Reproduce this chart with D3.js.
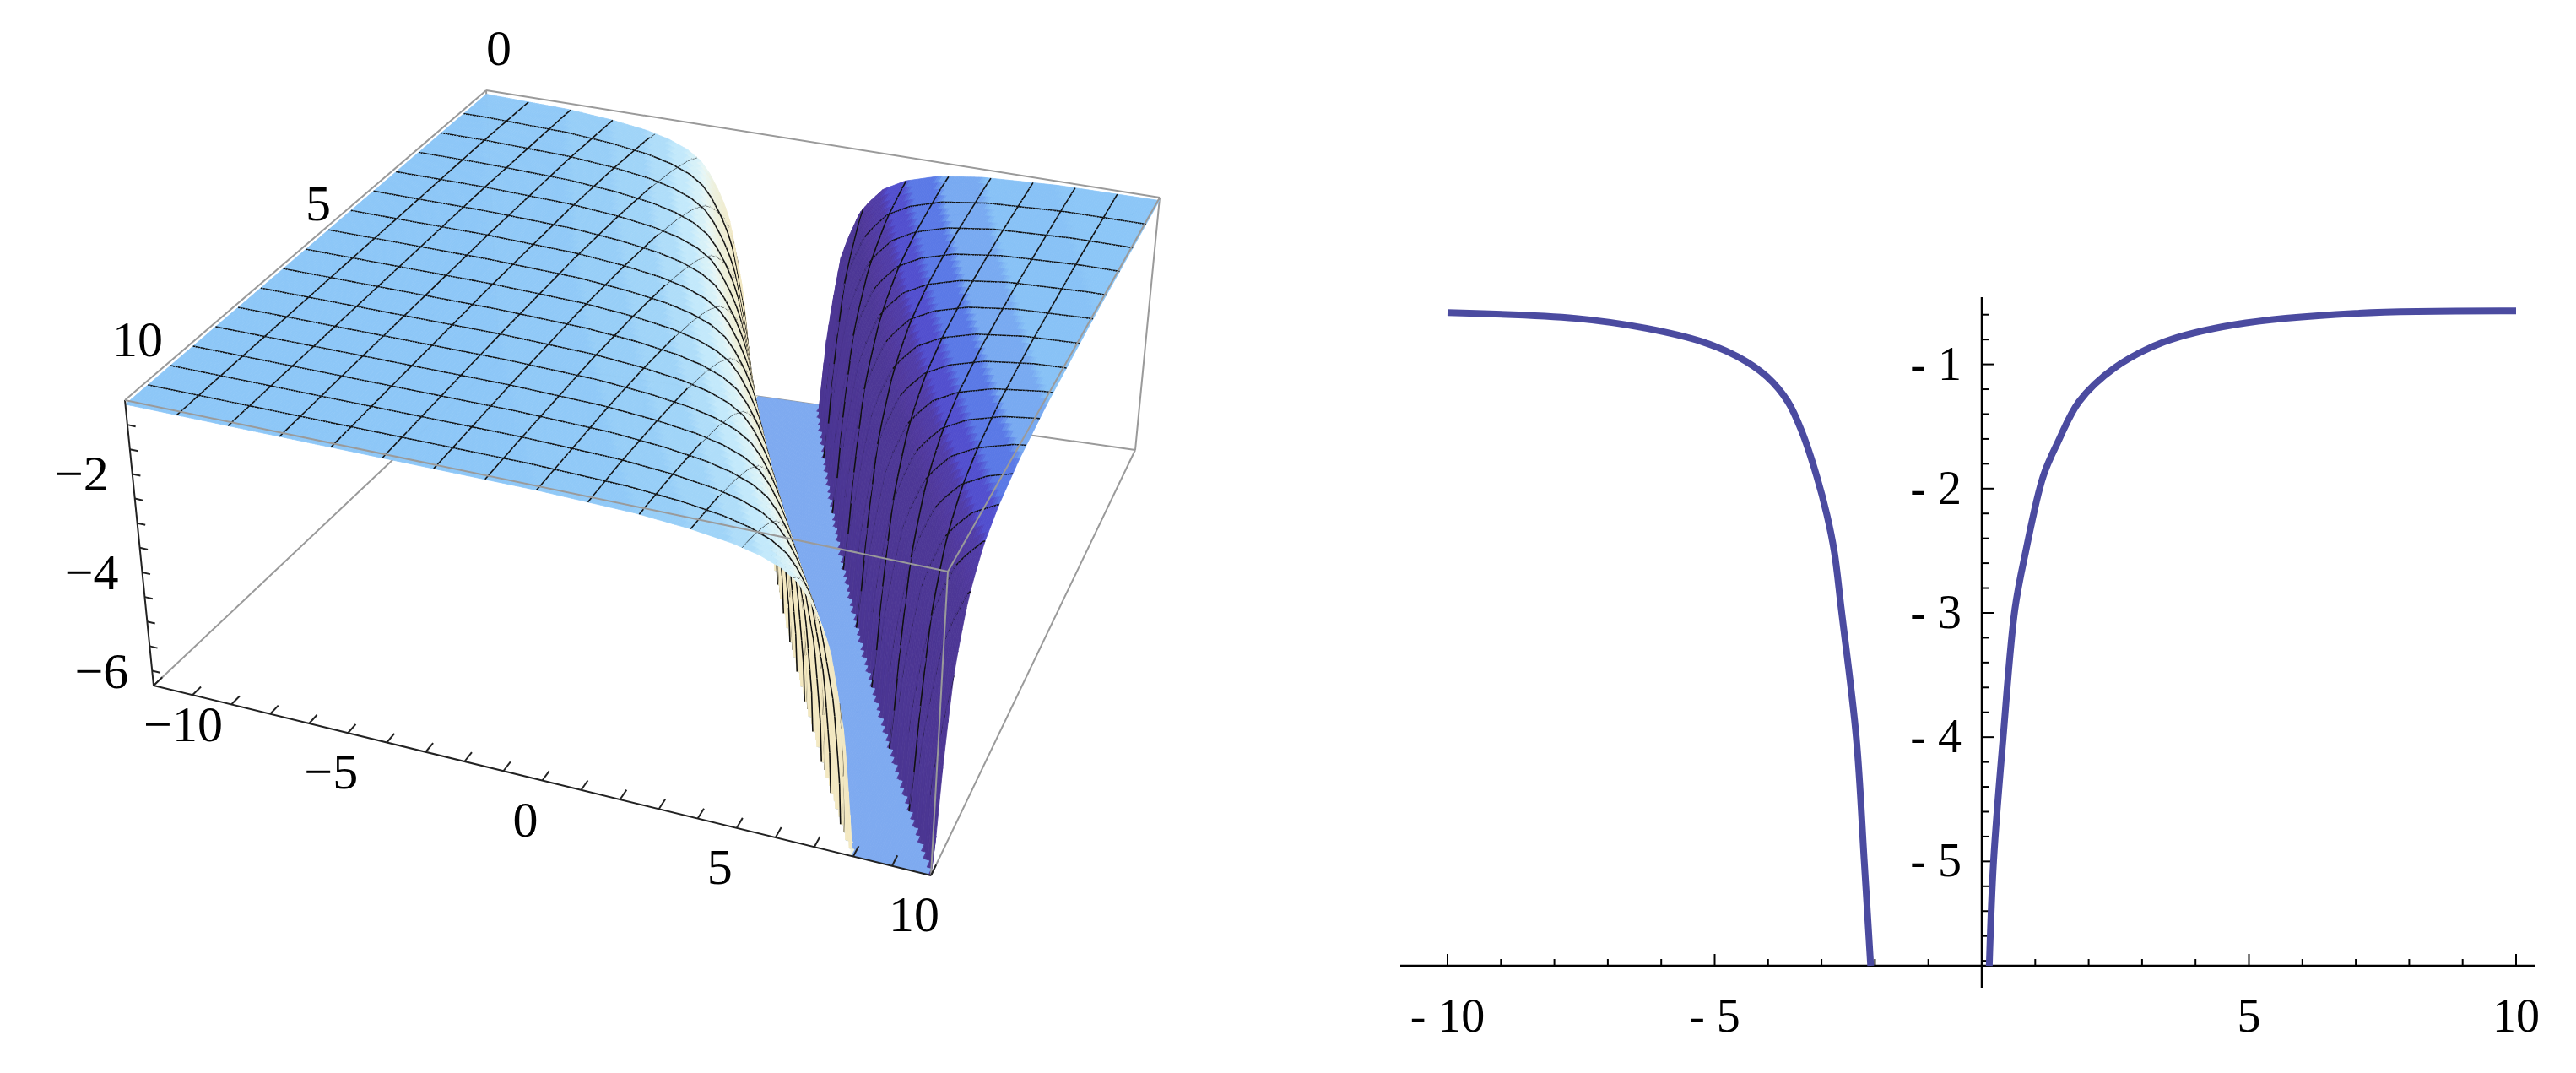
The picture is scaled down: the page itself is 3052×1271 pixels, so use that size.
<!DOCTYPE html>
<html><head><meta charset="utf-8">
<script src="https://cdn.jsdelivr.net/npm/d3@7"></script>
<style>body{margin:0;background:#fff}text{font-family:"Liberation Serif",serif}</style>
</head><body>
<script>
// ---- data ----
const leftX  = [-10,-7.6,-6.28,-5.22,-4.56,-4.02,-3.63,-3.36,-3.09,-2.9,-2.76,-2.63,-2.35,-2.2,-2.08];
const leftY  = [-0.584,-0.63,-0.71,-0.82,-0.94,-1.10,-1.30,-1.55,-1.90,-2.21,-2.51,-2.97,-4.0,-5.0,-5.84];
const rightX = [0.14,0.22,0.4,0.62,0.82,1.15,1.42,1.82,2.48,3.41,4.74,6.99,10];
const rightY = [-5.84,-5.0,-4.0,-2.97,-2.51,-1.90,-1.63,-1.30,-1.03,-0.82,-0.68,-0.59,-0.57];
const xTicks2D = [-10,-5,5,10];
const yTicks2D = [-1,-2,-3,-4,-5];
const uTicks3D = [-10,-5,0,5,10];
const vTicks3D = [0,5,10];
const zTicks3D = [-2,-4,-6];

const W=3052,H=1271;
const svg=d3.select("body").append("svg").attr("width",W).attr("height",H);

// ---------- 2D plot ----------
const x2=d3.scaleLinear().domain([-10,10]).range([1715,2981]);
const y2=d3.scaleLinear().domain([-5.84,-0.5]).range([1144,358]);
const g2=svg.append("g");
g2.append("line").attr("x1",1659).attr("x2",3003).attr("y1",y2(-5.84)).attr("y2",y2(-5.84)).attr("stroke","#000").attr("stroke-width",2.5);
g2.append("line").attr("x1",x2(0)).attr("x2",x2(0)).attr("y1",352).attr("y2",1170).attr("stroke","#000").attr("stroke-width",2.5);
d3.range(-10,10.01,1).forEach(v=>{ if(v===0)return; const maj=v%5===0;
 g2.append("line").attr("x1",x2(v)).attr("x2",x2(v)).attr("y1",y2(-5.84)).attr("y2",y2(-5.84)-(maj?14:8)).attr("stroke","#000").attr("stroke-width",2);});
d3.range(-5.8,-0.49,0.2).forEach(v=>{ const r=Math.round(v*5)/5; const maj=Math.abs(r-Math.round(r))<1e-6;
 g2.append("line").attr("x1",x2(0)).attr("x2",x2(0)+(maj?14:8)).attr("y1",y2(r)).attr("y2",y2(r)).attr("stroke","#000").attr("stroke-width",2);});
xTicks2D.forEach(v=>g2.append("text").attr("x",x2(v)).attr("y",1222).attr("text-anchor","middle").attr("font-size",56)
  .text(v<0?"- "+(-v):String(v)));
yTicks2D.forEach(v=>g2.append("text").attr("x",x2(0)-24).attr("y",y2(v)+18).attr("text-anchor","end").attr("font-size",56)
  .text("- "+(-v)));
const line2=d3.line().x(d=>x2(d[0])).y(d=>y2(d[1])).curve(d3.curveCatmullRom.alpha(0.5));
[[leftX,leftY],[rightX,rightY]].forEach(([xs,ys])=>{
 g2.append("path").attr("d",line2(xs.map((x,i)=>[x,ys[i]]))).attr("fill","none").attr("stroke","#4b4ba0").attr("stroke-width",8);
});

// ---------- 3D surface ----------
const zmin=-6.3,zmax=-0.5;
const fl=d3.scaleLinear().domain(leftX).range(leftY).clamp(true);
const fr=d3.scaleLinear().domain(rightX).range(rightY).clamp(true);
function prof(d){ if(d<=-2.08) return fl(d); if(d>=0.14) return fr(d); return zmin; }
function surf(u,v){ return Math.max(zmin,Math.min(zmax,prof(u-v))); }
// box corner screen positions (layout)
const C={ // [U][V][W]
 "000":[591,426],"100":[1345,533],"010":[182,812],"110":[1103,1037],
 "001":[576,107],"101":[1374,234],"011":[148,474],"111":[1123,677]};
const uS=d3.scaleLinear().domain([-10,10]).range([0,1]);
const vS=d3.scaleLinear().domain([0,10]).range([0,1]);
const wS=d3.scaleLinear().domain([zmin,zmax]).range([0,1]);
function P(u,v,z){const a=uS(u),b=vS(v),c=wS(z);const r=[0,0];
 for(const i of[0,1])for(const j of[0,1])for(const k of[0,1]){const w=(i?a:1-a)*(j?b:1-b)*(k?c:1-c);const p=C[""+i+j+k];r[0]+=w*p[0];r[1]+=w*p[1];}
 return r;}
const g3=svg.append("g");
const edge=(a,b,col)=>{g3.append("line").attr("x1",a[0]).attr("y1",a[1]).attr("x2",b[0]).attr("y2",b[1]).attr("stroke",col||"#9a9a9a").attr("stroke-width",2);};
// back edges
edge(P(-10,0,zmin),P(10,0,zmin));edge(P(-10,0,zmin),P(-10,10,zmin));edge(P(-10,0,zmin),P(-10,0,zmax));
edge(P(-10,0,zmax),P(10,0,zmax));edge(P(10,0,zmax),P(10,0,zmin));edge(P(10,0,zmin),P(10,10,zmin));edge(P(-10,0,zmax),P(-10,10,zmax));

const NU=320,NV=64;
const us=d3.range(NU+1).map(i=>-10+20*i/NU), vs=d3.range(NV+1).map(j=>10*j/NV);
const Z=vs.map(v=>us.map(u=>surf(u,v)));
const col=d3.scaleLinear().domain([-1,-0.8,-0.55,-0.3,-0.08,0.05,0.4,0.75,0.95])
  .range(["#4a3590","#50399c","#5046c8","#5a7ce8","#86c0f6","#92cbf7","#c4eafb","#e8f7f6","#f4e8c0"]).clamp(true);
const quads=[];
for(let j=0;j<NV;j++)for(let i=0;i<NU;i++){
 const z00=Z[j][i],z10=Z[j][i+1],z01=Z[j+1][i],z11=Z[j+1][i+1];
 const U0=uS(us[i]),U1=uS(us[i+1]),V0=vS(vs[j]),V1=vS(vs[j+1]);
 const k=0.4/(zmax-zmin);
 const dzdU=((z10-z00)+(z11-z01))/2*k/(U1-U0), dzdV=((z01-z00)+(z11-z10))/2*k/(V1-V0);
 let n=[-dzdU,-dzdV,1];const L=Math.hypot(...n);n=n.map(x=>x/L);
 const t=(n[0]-n[1])/Math.SQRT2;
 const floor=(z00<=zmin&&z10<=zmin&&z01<=zmin&&z11<=zmin);
 const zc=(z00+z10+z01+z11)/4;
 const key=0.25*(U0+U1)/2+(V0+V1)/2+ (wS(zc))*0.4*1.1;
 quads.push({i,j,t,floor,key});
}
quads.sort((a,b)=>a.key-b.key);
const gq=g3.append("g");
quads.forEach(q=>{const {i,j}=q;
 const p1=P(us[i],vs[j],Z[j][i]),p2=P(us[i+1],vs[j],Z[j][i+1]),p3=P(us[i+1],vs[j+1],Z[j+1][i+1]),p4=P(us[i],vs[j+1],Z[j+1][i]);
 const c=q.floor?"#7eaaf0":col(q.t);
 gq.append("path").attr("d","M"+p1+"L"+p2+"L"+p3+"L"+p4+"Z").attr("fill",c).attr("stroke",c).attr("stroke-width",0.8);
 if(i%20===0&&i>0&&!(Z[j][i]<=zmin&&Z[j+1][i]<=zmin))
  gq.append("line").attr("x1",p1[0]).attr("y1",p1[1]).attr("x2",p4[0]).attr("y2",p4[1]).attr("stroke","#111").attr("stroke-width",1.6);
 if(j%4===0&&j>0&&!(Z[j][i]<=zmin&&Z[j][i+1]<=zmin))
  gq.append("line").attr("x1",p1[0]).attr("y1",p1[1]).attr("x2",p2[0]).attr("y2",p2[1]).attr("stroke","#111").attr("stroke-width",1.6);
});
// front edges
edge(P(-10,10,zmin),P(10,10,zmin),"#222");edge(P(-10,10,zmin),P(-10,10,zmax),"#222");
edge(P(10,10,zmin),P(10,10,zmax));edge(P(-10,10,zmax),P(10,10,zmax));edge(P(10,10,zmax),P(10,0,zmax));
// ticks & labels
d3.range(-10,10.01,1).forEach(u=>{const a=P(u,10,zmin),b=P(u,9.75,zmin);edge(a,b,"#222");});
uTicks3D.forEach(u=>{const p=P(u,10,zmin);g3.append("text").attr("x",p[0]+(u===-10?35:-20)).attr("y",p[1]+66).attr("text-anchor","middle").attr("font-size",60).text(u<0?"\u2212"+(-u):u);});
vTicks3D.forEach(v=>{const p=P(-10,v,zmax);g3.append("text").attr("x",p[0]+15).attr("y",p[1]-(v===10?52:30)).attr("text-anchor","middle").attr("font-size",60).text(v);});
d3.range(-6,-0.5,0.5).forEach(z=>{const a=P(-10,10,z),b=P(-9.8,10,z);edge(a,b,"#222");});
zTicks3D.forEach(z=>{const p=P(-10,10,z);g3.append("text").attr("x",p[0]-28).attr("y",p[1]+20).attr("text-anchor","end").attr("font-size",60).text("\u2212"+(-z));});
</script>
</body></html>
